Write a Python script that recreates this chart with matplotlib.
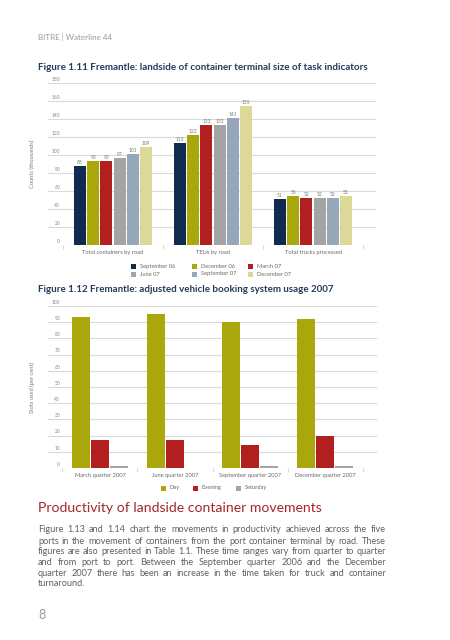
import matplotlib
matplotlib.use('Agg')
import matplotlib.pyplot as plt
import matplotlib.transforms as mtrans
from matplotlib.patches import Rectangle

plt.rcParams['font.family'] = ['Lato', 'DejaVu Sans']

# ---------------- data ----------------
fig11_categories = ['Total containers by road', 'TEUs by road', 'Total trucks processed']
fig11_periods = ['September 06', 'December 06', 'March 07', 'June 07', 'September 07', 'December 07']
sep06 = [88, 113, 51]
dec06 = [93, 122, 55]
mar07 = [93, 133, 52]
jun07 = [97, 133, 52]
sep07 = [101, 141, 52]
dec07 = [109, 155, 55]
fig11_series = [sep06, dec06, mar07, jun07, sep07, dec07]
fig11_colors = ['#0f2b50', '#aaa70c', '#b11f1f', '#a4a4a4', '#96a7b9', '#dcd897']
fig11_yticks = [0, 20, 40, 60, 80, 100, 120, 140, 160, 180]

fig12_categories = ['March quarter 2007', 'June quarter 2007', 'September quarter 2007', 'December quarter 2007']
fig12_periods = ['Day', 'Evening', 'Saturday']
day = [93, 95, 90, 92]
evening = [17, 17, 14, 20]
saturday = [1, 0, 1, 1]
fig12_series = [day, evening, saturday]
fig12_colors = ['#aaa70c', '#b11f1f', '#a4a4a4']
fig12_yticks = [0, 10, 20, 30, 40, 50, 60, 70, 80, 90, 100]

header = 'BITRE | Waterline 44'
title11 = 'Figure 1.11 Fremantle: landside of container terminal size of task indicators'
title12 = 'Figure 1.12 Fremantle: adjusted vehicle booking system usage 2007'
heading = 'Productivity of landside container movements'
body_lines = [
    'Figure 1.13 and 1.14 chart the movements in productivity achieved across the five',
    'ports in the movement of containers from the port container terminal by road. These',
    'figures are also presented in Table 1.1. These time ranges vary from quarter to quarter',
    'and from port to port. Between the September quarter 2006 and the December',
    'quarter 2007 there has been an increase in the time taken for truck and container',
    'turnaround.',
]
page_number = '8'

# ---------------- figure ----------------
W, H = 450, 640
fig = plt.figure(figsize=(4.5, 6.4), dpi=100)
fig.patch.set_facecolor('white')
renderer = fig.canvas.get_renderer()


def fx(x):
    return x / W


def fy(y):
    return 1 - y / H


def text_width(s, fs, **kw):
    t = fig.text(0, 0, s, fontsize=fs, **kw)
    w = t.get_window_extent(renderer).width
    t.remove()
    return w


def fit_fs(s, width, **kw):
    return 10 * width / text_width(s, 10, **kw)


TICKC = '#8a8a8a'
GRIDC = '#dadada'

# page texts
fig.text(fx(38), fy(37.5), header, fontsize=fit_fs(header, 74), color='#9a9a9a', va='center')
fig.text(fx(38), fy(67.5), title11, fontsize=fit_fs(title11, 330, weight='bold'),
         weight='bold', color='#253b5a', va='center')
fig.text(fx(38), fy(289), title12, fontsize=fit_fs(title12, 294, weight='bold'),
         weight='bold', color='#253b5a', va='center')
fig.text(fx(38), fy(508), heading, fontsize=fit_fs(heading, 284), color='#a3262a', va='center')
fig.text(fx(38), fy(615), page_number, fontsize=9, color='#9a9a9a', va='center')

# justified body
body_fs = fit_fs(body_lines[2], 348)
body_y = [530, 541, 551.5, 562.5, 573, 584]
space_w = text_width('a b', body_fs) - text_width('ab', body_fs)
for i, line in enumerate(body_lines):
    words = line.split(' ')
    widths = [text_width(w, body_fs) for w in words]
    if i < len(body_lines) - 1 and len(words) > 1:
        gap = (348 - sum(widths)) / (len(words) - 1)
    else:
        gap = space_w
    x = 38
    for w, wd in zip(words, widths):
        fig.text(fx(x), fy(body_y[i]), w, fontsize=body_fs, color='#616161', va='center')
        x += wd + gap

cat_fs = fit_fs(fig11_categories[0], 62)
tick_fs = fit_fs('180', 8.5)
val_fs = fit_fs('109', 8.5)
leg_fs = fit_fs('September 06', 36)


def style_axes(ax, yticks, ncat):
    for sp in ax.spines.values():
        sp.set_visible(False)
    ax.set_yticks(yticks)
    ax.tick_params(axis='y', left=False, labelleft=False)
    ax.set_xticks([i - 0.5 for i in range(ncat + 1)])
    ax.tick_params(axis='x', which='major', length=3, color=GRIDC, width=0.8,
                   labelbottom=False, direction='out')
    ax.grid(axis='y', color=GRIDC, linewidth=0.8)
    ax.set_axisbelow(True)
    trans = mtrans.blended_transform_factory(ax.transAxes, ax.transData)
    off = mtrans.ScaledTranslation(0, 1.2 / 100, fig.dpi_scale_trans)
    for v in yticks:
        ax.text(12 / ax.bbox.width, v, str(v), transform=trans + off, ha='right', va='bottom',
                fontsize=tick_fs, color=TICKC)


# ---------------- chart 1.11 ----------------
ax1 = fig.add_axes([fx(48), fy(245), (376 - 48) / W, (245 - 83) / H])
ax1.set_ylim(0, 180)
ax1.set_xlim(-0.65, 2.63)
style_axes(ax1, fig11_yticks, len(fig11_categories))
slot = 0.132
for k, (vals, col) in enumerate(zip(fig11_series, fig11_colors)):
    xs = [i + (k - 2.5) * slot for i in range(len(vals))]
    bars = ax1.bar(xs, vals, width=0.12, color=col, zorder=3)
    ax1.bar_label(bars, labels=[str(v) for v in vals], padding=0.6, fontsize=val_fs, color='#7a7a7a')
ax1.set_xticks(range(len(fig11_categories)), fig11_categories, minor=True)
ax1.tick_params(axis='x', which='minor', length=0, labelsize=cat_fs, labelcolor='#6a6a6a',
                pad=3.5)
ax1.set_ylabel('Counts (thousands)', fontsize=cat_fs, color='#7a7a7a')
ax1.yaxis.set_label_coords(-0.04, 0.5)

# legend 1.11 (manual grid, 3 columns x 2 rows)
leg_cols_sq = [131, 192, 248]
leg_rows_y = [266.5, 274]
for k, (name, col) in enumerate(zip(fig11_periods, fig11_colors)):
    r, c = divmod(k, 3)
    x0 = leg_cols_sq[c]
    y0 = leg_rows_y[r]
    fig.patches.append(Rectangle((fx(x0), fy(y0 + 2.5)), 5 / W, 5 / H, transform=fig.transFigure,
                                 facecolor=col, edgecolor='none'))
    fig.text(fx(x0 + 9), fy(y0), name, fontsize=leg_fs, color='#6a6a6a', va='center')

# ---------------- chart 1.12 ----------------
ax2 = fig.add_axes([fx(48), fy(468), (377 - 48) / W, (468 - 306) / H])
ax2.set_ylim(0, 100)
ax2.set_xlim(-0.693, 3.693)
style_axes(ax2, fig12_yticks, len(fig12_categories))
slot2 = 0.257
for k, (vals, col) in enumerate(zip(fig12_series, fig12_colors)):
    xs = [i + (k - 1) * slot2 for i in range(len(vals))]
    ax2.bar(xs, vals, width=0.24, color=col, zorder=3)
ax2.set_xticks(range(len(fig12_categories)), fig12_categories, minor=True)
ax2.tick_params(axis='x', which='minor', length=0, labelsize=cat_fs, labelcolor='#6a6a6a',
                pad=3.5)
ax2.set_ylabel('Slots used (per cent)', fontsize=cat_fs, color='#7a7a7a')
ax2.yaxis.set_label_coords(-0.04, 0.5)

leg2_sq = [161, 193, 236]
for name, col, x0 in zip(fig12_periods, fig12_colors, leg2_sq):
    fig.patches.append(Rectangle((fx(x0), fy(490.5)), 5 / W, 5 / H, transform=fig.transFigure,
                                 facecolor=col, edgecolor='none'))
    fig.text(fx(x0 + 9), fy(488), name, fontsize=leg_fs, color='#6a6a6a', va='center')

fig.savefig('out.png', dpi=100)
